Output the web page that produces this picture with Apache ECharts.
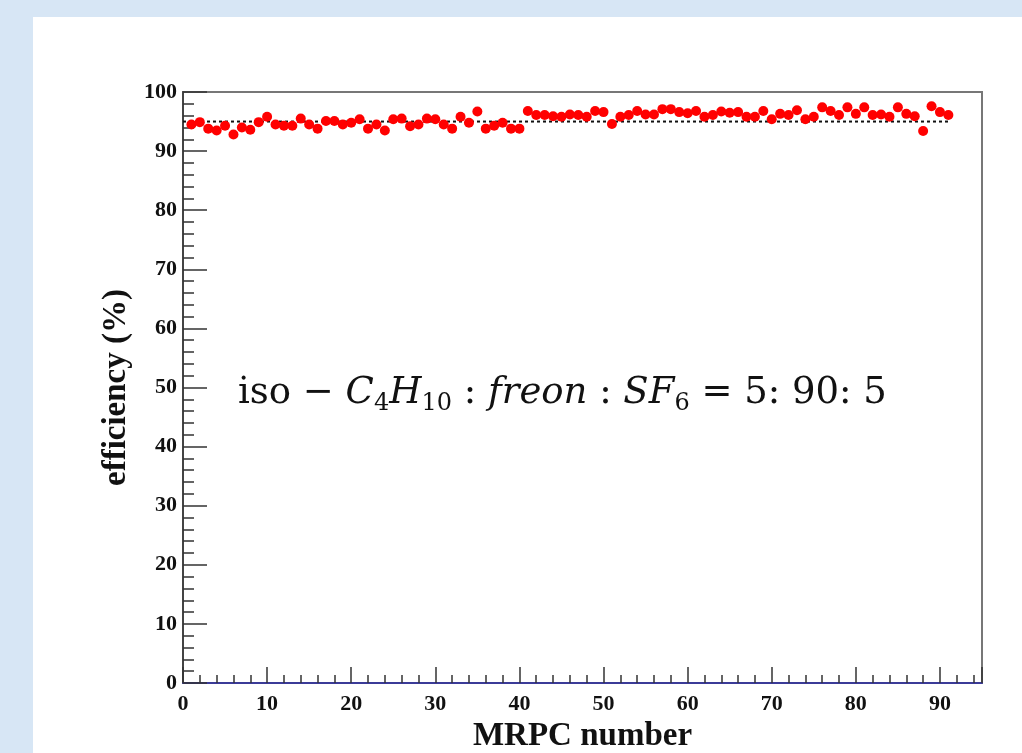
<!DOCTYPE html>
<html>
<head>
<meta charset="utf-8">
<script src="https://cdn.jsdelivr.net/npm/echarts@6/dist/echarts.min.js"></script>
<style>
html,body{margin:0;padding:0;background:#d7e6f5;}
#chart{width:1022px;height:753px;}
</style>
</head>
<body>
<div id="chart"></div>
<script>
// MRPC index numbers
var mrpcNumbers = [];
for (var k = 1; k <= 91; k++) mrpcNumbers.push(k);
// efficiency (%)
var efficiency = [
  94.5, 94.9, 93.8, 93.5, 94.3, 92.8, 94.0, 93.6, 94.9, 95.8,
  94.5, 94.3, 94.3, 95.5, 94.5, 93.8, 95.1, 95.1, 94.5, 94.8,
  95.4, 93.8, 94.5, 93.5, 95.4, 95.5, 94.2, 94.5, 95.5, 95.4,
  94.5, 93.8, 95.8, 94.8, 96.7, 93.8, 94.3, 94.8, 93.8, 93.8,
  96.8, 96.1, 96.1, 95.9, 95.8, 96.2, 96.1, 95.8, 96.8, 96.6,
  94.6, 95.8, 96.1, 96.8, 96.2, 96.2, 97.1, 97.1, 96.6, 96.4,
  96.8, 95.8, 96.1, 96.7, 96.5, 96.6, 95.8, 95.8, 96.8, 95.4,
  96.3, 96.1, 96.9, 95.4, 95.8, 97.4, 96.8, 96.1, 97.4, 96.3,
  97.4, 96.1, 96.2, 95.8, 97.4, 96.3, 95.9, 93.4, 97.6, 96.6,
  96.1
];
// reference (dotted) line at 95 %
var refLineX = [0, 91];
var refLineY = [95, 95];
var xTicks = [0, 10, 20, 30, 40, 50, 60, 70, 80, 90];
var yTicks = [0, 10, 20, 30, 40, 50, 60, 70, 80, 90, 100];

var points = mrpcNumbers.map(function (n, i) { return [n, efficiency[i]]; });
var refLine = refLineX.map(function (x, i) { return [x, refLineY[i]]; });

var chart = echarts.init(document.getElementById('chart'));
var serif = 'Liberation Serif';
var mathFont = 'DejaVu Serif';
chart.setOption({
  backgroundColor: '#d7e6f5',
  animation: false,
  graphic: [
    { type: 'rect', z: -100, shape: { x: 33, y: 17, width: 989, height: 736 }, style: { fill: '#ffffff' }, silent: true },
    {
      type: 'text', left: 238, top: 375, z: 100,
      style: {
        text: '{n|iso − }{i|C}{s|4}{i|H}{s|10}{n| : }{i|freon}{n| : }{i|SF}{s|6}{n| = 5: 90: 5}',
        rich: {
          n: { fontFamily: mathFont, fontSize: 37, lineHeight: 44, fill: '#111' },
          i: { fontFamily: mathFont, fontStyle: 'italic', fontSize: 37, lineHeight: 44, fill: '#111' },
          s: { fontFamily: mathFont, fontSize: 24, lineHeight: 16, verticalAlign: 'bottom', fill: '#111' }
        }
      }
    }
  ],
  grid: { left: 183, right: 40, top: 92, bottom: 70, show: true, borderColor: '#777', borderWidth: 2, backgroundColor: 'transparent', outerBoundsMode: 'none', containLabel: false },
  xAxis: {
    type: 'value', min: 0, max: 95, interval: 10,
    name: 'MRPC number', nameLocation: 'middle', nameGap: 35,
    nameTextStyle: { fontFamily: serif, fontWeight: 'bold', fontSize: 33, color: '#111' },
    axisLine: { show: true, onZero: false, lineStyle: { color: '#3b3b98', width: 2 } },
    axisTick: { show: true, inside: true, length: 16, lineStyle: { color: '#333', width: 1.5 } },
    minorTick: { show: true, splitNumber: 5, length: 8, lineStyle: { color: '#333', width: 1.5 } },
    splitLine: { show: false },
    axisLabel: {
      margin: 10, fontFamily: serif, fontWeight: 'bold', fontSize: 22, color: '#111',
      showMaxLabel: false,
      formatter: function (v) { return xTicks.indexOf(v) >= 0 ? String(v) : ''; }
    }
  },
  yAxis: {
    type: 'value', min: 0, max: 100, interval: 10,
    name: 'efficiency (%)', nameLocation: 'middle', nameGap: 47,
    nameTextStyle: { fontFamily: serif, fontWeight: 'bold', fontSize: 33, color: '#111' },
    axisLine: { show: true, onZero: false, lineStyle: { color: '#444', width: 2 } },
    axisTick: { show: true, inside: true, length: 24, lineStyle: { color: '#333', width: 1.5 } },
    minorTick: { show: true, splitNumber: 5, length: 11, lineStyle: { color: '#333', width: 1.5 } },
    splitLine: { show: false },
    axisLabel: {
      margin: 6, fontFamily: serif, fontWeight: 'bold', fontSize: 22, color: '#111',
      formatter: function (v) { return yTicks.indexOf(v) >= 0 ? String(v) : ''; }
    }
  },
  series: [
    {
      type: 'line', data: refLine, symbol: 'none', z: 3,
      lineStyle: { color: '#111', width: 2, type: [3, 3] }
    },
    {
      type: 'scatter', data: points, symbol: 'circle', symbolSize: 10, z: 4,
      itemStyle: { color: '#ff0000', opacity: 1 }
    }
  ]
});
</script>
</body>
</html>
